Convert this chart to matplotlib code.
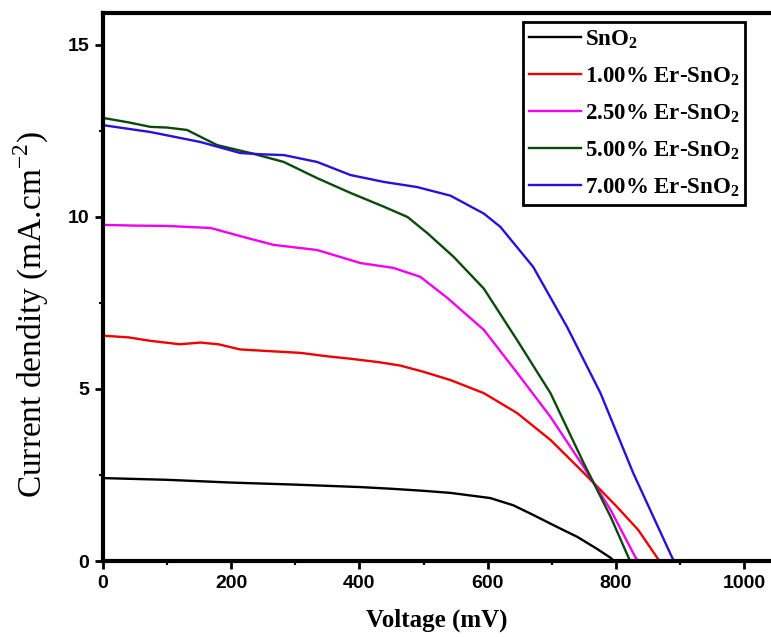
import matplotlib
matplotlib.use("Agg")
import matplotlib.pyplot as plt
from matplotlib.ticker import MultipleLocator

# J-V curves (voltage in mV, current density in mA/cm2)
labels = ["SnO$_\\mathregular{2}$",
          "1.00% Er-SnO$_\\mathregular{2}$",
          "2.50% Er-SnO$_\\mathregular{2}$",
          "5.00% Er-SnO$_\\mathregular{2}$",
          "7.00% Er-SnO$_\\mathregular{2}$"]
colors = ["black", "#f00000", "#f000f0", "#0a4a0a", "#2a10d8"]

v_sno2 = [0, 100, 200, 300, 400, 450, 500, 542, 604, 640, 671, 705, 740, 770, 792, 797]
j_sno2 = [2.41, 2.36, 2.28, 2.22, 2.15, 2.10, 2.04, 1.98, 1.83, 1.62, 1.34, 1.02, 0.70, 0.36, 0.09, 0]

v_er100 = [0, 40, 74, 120, 152, 180, 214, 260, 308, 350, 386, 430, 464, 500, 542, 594, 646, 698, 750, 802, 835, 868]
j_er100 = [6.55, 6.50, 6.40, 6.30, 6.35, 6.30, 6.15, 6.10, 6.05, 5.95, 5.88, 5.78, 5.68, 5.50, 5.26, 4.88, 4.30, 3.52, 2.56, 1.57, 0.90, 0]

v_er250 = [0, 50, 100, 168, 219, 266, 334, 402, 453, 495, 537, 594, 646, 698, 750, 792, 831, 836]
j_er250 = [9.77, 9.75, 9.74, 9.68, 9.42, 9.19, 9.04, 8.66, 8.52, 8.26, 7.65, 6.72, 5.47, 4.19, 2.73, 1.48, 0.09, 0]

v_er500 = [0, 40, 74, 100, 131, 178, 230, 282, 334, 386, 438, 475, 506, 547, 594, 646, 698, 750, 792, 820, 823]
j_er500 = [12.88, 12.75, 12.62, 12.60, 12.53, 12.09, 11.86, 11.60, 11.13, 10.70, 10.30, 10.00, 9.53, 8.84, 7.92, 6.42, 4.88, 2.84, 1.28, 0.09, 0]

v_er700 = [0, 74, 152, 214, 250, 282, 334, 386, 438, 490, 542, 594, 620, 671, 724, 776, 827, 888, 891]
j_er700 = [12.67, 12.47, 12.18, 11.86, 11.82, 11.80, 11.60, 11.22, 11.02, 10.87, 10.62, 10.10, 9.71, 8.55, 6.80, 4.88, 2.56, 0.09, 0]

voltages = [v_sno2, v_er100, v_er250, v_er500, v_er700]
currents = [j_sno2, j_er100, j_er250, j_er500, j_er700]

fig = plt.figure(figsize=(7.71, 6.37), dpi=100)
ax = fig.add_axes([103 / 771, 76 / 637, 1 - 103 / 771, 548 / 637])

for v, j, c, lab in zip(voltages, currents, colors, labels):
    ax.plot(v, j, color=c, lw=1.7, label=lab)

ax.set_xlim(0, 1042)
ax.set_ylim(0, 15.93)
ax.xaxis.set_major_locator(MultipleLocator(200))
ax.xaxis.set_minor_locator(MultipleLocator(100))
ax.yaxis.set_major_locator(MultipleLocator(5))
ax.yaxis.set_minor_locator(MultipleLocator(2.5))
ax.tick_params(which="major", direction="out", length=6, width=2, pad=4)
ax.tick_params(which="minor", direction="out", length=3, width=1.5)
for lab in ax.get_xticklabels() + ax.get_yticklabels():
    lab.set_family("Liberation Sans")
    lab.set_fontweight("bold")
    lab.set_fontsize(14)

for s in ["left", "top", "bottom"]:
    ax.spines[s].set_linewidth(3)
ax.spines["right"].set_visible(False)

ax.set_xlabel("Voltage (mV)", family="Liberation Serif", fontweight="bold", fontsize=18, labelpad=12)
ax.set_ylabel("Current dendity (mA.cm$^{\\mathregular{-2}}$)", family="Liberation Serif", fontsize=24)
ax.yaxis.set_label_coords(-0.078, 0.45)

leg = ax.legend(loc="upper right", bbox_to_anchor=(745 / 771, 1 - 22 / 637),
                bbox_transform=fig.transFigure, borderaxespad=0,
                prop={"family": "Liberation Serif", "weight": "bold", "size": 16.5},
                handlelength=2.3, handletextpad=0.15, labelspacing=0.62,
                borderpad=0.25, fancybox=False, framealpha=1)
leg.get_frame().set_edgecolor("black")
leg.get_frame().set_linewidth(2)

fig.savefig("out.png", dpi=100)
plt.close(fig)
